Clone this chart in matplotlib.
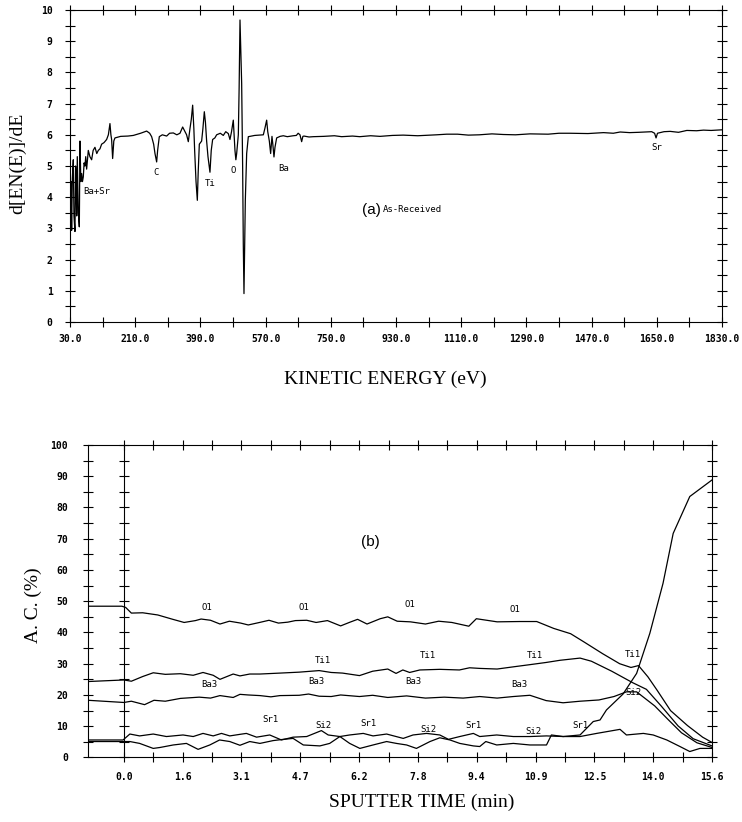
import numpy as np
import matplotlib
matplotlib.use('Agg')
import matplotlib.pyplot as plt
from matplotlib.ticker import FormatStrFormatter

# (a) Auger survey spectrum, as-received surface
energy_ev = [30, 31.5, 33, 34.6, 36.5, 39.2, 41, 43.8, 45.5, 47, 48.5, 50.2, 53, 55.8, 57.6, 60,
             62.2, 64.5, 66.8, 69, 71.4, 73.5, 76, 80.6,
             85, 89.8, 94, 99, 104, 108.2, 112.8, 117.4, 124, 131.2, 136, 140.4, 143, 145,
             147.8, 151, 154.2, 170, 190, 204.9, 225, 241.7, 250, 255.5, 261, 264.7, 269.3,
             272, 276.6, 285, 296.9, 305, 315.3, 325, 333.7, 341.1, 347.5, 352, 356.7, 361.3,
             365, 368.7, 372, 374.2, 378, 381.6, 384, 387.1, 393.5, 397, 400.9, 404, 407.3,
             411, 416.5, 420, 423.9, 430, 434.9, 445, 453.3, 460, 467.1, 471.7, 476, 480.9,
             483, 485.5, 488, 490.2, 494.8, 497, 499.4, 502, 504, 506.7, 508.5, 510.4, 512.5,
             514.1, 517.8, 522.4, 540, 563.8, 568, 573, 576, 580.4, 584, 587.7, 590, 593.2,
             596, 600.6, 610, 619, 630, 646.6, 655, 660, 665, 669.6, 673, 676, 690, 701.8,
             730, 760, 780, 810, 830, 860, 885.9, 920, 950, 990, 1042, 1070, 1100, 1130, 1160,
             1195, 1226, 1260, 1300, 1350, 1380, 1411, 1460, 1503, 1530, 1549, 1575, 1600,
             1636, 1644, 1648, 1652, 1670, 1687, 1710, 1733, 1760, 1779, 1800, 1830]
dnde = [4.3, 3.3, 4.5, 2.94, 4.6, 5.2, 3.4, 2.9, 5.0, 4.6, 3.4, 5.3, 3.5, 3.05, 5.8, 4.5,
        4.76, 4.5, 4.65, 5.1, 5.0, 5.3, 4.9, 5.5,
        5.3, 5.2, 5.5, 5.6, 5.4, 5.5, 5.55, 5.7, 5.75, 5.85, 6.0, 6.36, 6.0, 5.85,
        5.24, 5.8, 5.9, 5.95, 5.96, 5.98, 6.05, 6.12, 6.05, 5.94, 5.7, 5.4, 5.13,
        5.5, 5.94, 6.0, 5.96, 6.05, 6.06, 6.0, 6.05, 6.25, 6.1, 6.0, 5.78, 6.2,
        6.5, 6.95, 6.2, 5.5, 4.5, 3.9, 4.8, 5.7, 5.8, 6.2, 6.74, 6.4, 5.8,
        5.3, 4.8, 5.5, 5.85, 5.9, 6.0, 6.05, 5.98, 6.1, 6.04, 5.85, 6.1, 6.47,
        6.0, 5.5, 5.2, 5.4, 6.0, 7.5, 9.68, 8.6, 7.65, 4.97, 2.5, 0.91, 2.5,
        3.9, 5.4, 5.94, 5.98, 6.0, 6.2, 6.47, 6.1, 5.8, 5.4, 5.95, 5.7, 5.29,
        5.6, 5.9, 5.95, 5.97, 5.94, 5.97, 5.98, 6.05, 6.0, 5.78, 5.95, 5.96, 5.93, 5.94,
        5.95, 5.97, 5.94, 5.96, 5.94, 5.97, 5.95, 5.98, 5.99, 5.97, 6.0, 6.02, 6.02, 5.99, 6.0,
        6.03, 6.01, 6.0, 6.03, 6.02, 6.05, 6.05, 6.04, 6.07, 6.05, 6.09, 6.07, 6.08,
        6.1, 6.05, 5.9, 6.05, 6.1, 6.11, 6.08, 6.14, 6.13, 6.15, 6.14, 6.16]

peak_names = ['Ba+Sr', 'C', 'Ti', 'O', 'Ba', 'Sr']
peak_ev = [104, 269, 416, 481, 619, 1650]
peak_y = [4.17, 4.8, 4.44, 4.87, 4.92, 5.6]

# (b) depth profile, atomic concentration vs sputter time
o1_t = [-0.95, -0.05, 0.05, 0.2, 0.5, 0.9, 1.3, 1.6, 1.9, 2.05, 2.3, 2.55, 2.8, 3.1, 3.3,
        3.6, 3.85, 4.1, 4.35, 4.55, 4.85, 5.1, 5.4, 5.75, 6.0, 6.2, 6.45, 6.8, 7.0, 7.25,
        7.6, 8.0, 8.35, 8.7, 9.15, 9.35, 9.9, 10.5, 10.95, 11.4, 11.85, 12.2, 12.7, 13.15,
        13.45, 13.65, 13.9, 14.15, 14.5, 14.95, 15.35, 15.6]
o1_ac = [48.4, 48.4, 48.0, 46.2, 46.3, 45.6, 44.2, 43.2, 43.8, 44.3, 43.9, 42.7, 43.6, 43.0, 42.4,
         43.2, 43.9, 43.0, 43.3, 43.8, 43.9, 43.2, 43.8, 42.1, 43.3, 44.2, 42.7, 44.4, 45.0, 43.6,
         43.4, 42.7, 43.6, 43.2, 42.0, 44.4, 43.4, 43.5, 43.5, 41.3, 39.6, 37.0, 33.2, 30.0,
         28.8, 29.4, 25.8, 21.4, 15.0, 10.2, 6.5, 4.8]

ti1_t = [-0.95, 0.0, 0.2, 0.5, 0.78, 1.1, 1.5, 1.84, 2.1, 2.37, 2.55, 2.9, 3.08, 3.34, 3.61,
         4.14, 4.65, 5.18, 5.5, 5.8, 6.25, 6.6, 7.0, 7.22, 7.4, 7.58, 7.85, 8.38, 8.9, 9.17,
         9.44, 9.9, 10.33, 10.77, 11.2, 11.57, 12.1, 12.4, 12.94, 13.5, 13.86, 14.25, 14.7,
         15.1, 15.6]
ti1_ac = [24.3, 24.8, 24.4, 25.9, 27.1, 26.6, 26.8, 26.3, 27.2, 26.3, 25.0, 26.7, 26.1, 26.7, 26.7,
          27.0, 27.3, 27.8, 27.2, 27.0, 26.2, 27.6, 28.3, 26.9, 28.0, 27.2, 28.0, 28.2, 28.0, 28.7,
          28.5, 28.3, 29.0, 29.7, 30.4, 31.1, 31.8, 30.8, 27.6, 23.9, 21.8, 16.5, 10.1,
          6.0, 3.7]

ba3_t = [-0.95, 0.0, 0.2, 0.55, 0.8, 1.1, 1.5, 2.0, 2.3, 2.55, 2.9, 3.08, 3.3, 3.61, 3.9,
         4.14, 4.65, 4.9, 5.18, 5.5, 5.75, 6.25, 6.6, 7.0, 7.5, 8.0, 8.5, 9.0, 9.44, 9.9,
         10.33, 10.77, 11.2, 11.65, 12.1, 12.6, 13.0, 13.33, 13.6, 14.08, 14.43, 14.79, 15.2,
         15.6]
ba3_ac = [18.3, 17.6, 18.0, 16.9, 18.3, 18.0, 18.9, 19.3, 19.0, 19.8, 19.2, 20.2, 20.0, 19.8, 19.4,
          19.8, 19.9, 20.3, 19.6, 19.5, 20.0, 19.5, 19.9, 19.2, 19.7, 19.0, 19.3, 19.0, 19.5, 19.0,
          19.5, 19.9, 18.2, 17.5, 18.0, 18.4, 19.5, 21.0, 21.0, 16.5, 12.2, 7.9, 4.7,
          3.2]

sr1_t = [-0.95, -0.02, 0.16, 0.42, 0.78, 1.13, 1.57, 1.84, 2.1, 2.37, 2.59, 2.81, 3.08, 3.25,
         3.52, 3.87, 4.18, 4.49, 4.85, 5.24, 5.42, 5.73, 5.99, 6.35, 6.61, 6.97, 7.41, 7.67,
         8.03, 8.38, 8.61, 8.91, 9.27, 9.44, 9.89, 10.33, 10.77, 11.21, 11.65, 12.1, 12.54,
         13.16, 13.33, 13.78, 14.04, 14.4, 14.75, 15.01, 15.28, 15.6]
sr1_ac = [5.6, 5.6, 7.5, 6.9, 7.5, 6.7, 7.2, 6.7, 7.7, 6.9, 7.7, 6.9, 7.4, 7.7,
          6.5, 7.2, 5.6, 6.5, 6.7, 8.6, 7.2, 6.7, 7.2, 7.7, 6.9, 7.5, 6.1, 7.2,
          7.7, 7.2, 5.8, 6.7, 7.7, 6.7, 7.2, 6.7, 6.7, 6.9, 6.7, 6.7, 7.7,
          9.0, 7.2, 7.7, 7.2, 5.6, 3.5, 1.9, 2.9, 2.9]

si2_t = [-0.95, -0.02, 0.16, 0.42, 0.78, 0.96, 1.31, 1.66, 1.97, 2.28, 2.54, 2.81, 3.08, 3.34,
         3.61, 3.96, 4.23, 4.49, 4.76, 5.2, 5.46, 5.73, 5.99, 6.26, 6.61, 6.97, 7.23, 7.5,
         7.76, 8.12, 8.38, 8.65, 8.91, 9.27, 9.44, 9.6, 9.89, 10.33, 10.77, 11.21, 11.34,
         11.65, 12.1, 12.45, 12.63, 12.8, 13.24, 13.6, 13.95, 14.3, 14.57, 15.01, 15.6]
si2_ac = [5.1, 5.1, 5.1, 4.5, 2.9, 3.2, 4.0, 4.5, 2.6, 4.0, 5.6, 5.1, 3.9, 5.1,
          4.5, 5.4, 5.8, 6.1, 4.0, 3.7, 4.5, 6.7, 4.5, 2.9, 4.0, 5.1, 4.5, 4.0,
          2.9, 5.1, 6.3, 5.6, 4.5, 3.7, 3.5, 5.1, 4.0, 4.5, 4.0, 4.0, 7.2,
          6.7, 7.2, 11.5, 12.0, 15.2, 20.3, 26.9, 39.7, 55.7, 71.7, 83.5, 88.8]

label_names = ['O1', 'O1', 'O1', 'O1', 'Ti1', 'Ti1', 'Ti1', 'Ti1', 'Ba3', 'Ba3', 'Ba3', 'Ba3',
               'Sr1', 'Si2', 'Sr1', 'Si2', 'Sr1', 'Si2', 'Sr1', 'Si2']
label_t = [2.19, 4.77, 7.59, 10.37, 5.29, 8.07, 10.9, 13.51, 2.28, 5.1, 7.67, 10.5,
           3.89, 5.29, 6.48, 8.07, 9.27, 10.86, 12.1, 13.51]
label_ac = [48.1, 48.1, 48.8, 47.4, 30.9, 32.5, 32.5, 32.8, 23.5, 24.3, 24.3, 23.2,
            12.0, 10.1, 10.9, 8.8, 10.1, 8.3, 10.1, 20.7]

serif = 'Liberation Serif'
mono = 'DejaVu Sans Mono'

fig = plt.figure(figsize=(7.42, 8.22), dpi=100)

# ---- top panel ----
ax1 = fig.add_axes([0.0943, 0.6083, 0.8787, 0.3795])
ax1.plot(energy_ev, dnde, color='black', lw=0.9)
ax1.set_xlim(30, 1830)
ax1.set_ylim(0, 10)
ax1.set_xticks(np.arange(30, 1831, 180))
ax1.set_xticks(np.arange(120, 1831, 180), minor=True)
ax1.set_yticks(np.arange(0, 11, 1))
ax1.set_yticks(np.arange(0.5, 10, 1), minor=True)
ax1.xaxis.set_major_formatter(FormatStrFormatter('%.1f'))
ax1.tick_params(which='both', direction='inout', top=True, right=True, length=7, width=0.8)
ax1.tick_params(axis='x', pad=5)
ax1.tick_params(axis='y', pad=9)
for lab in ax1.get_xticklabels() + ax1.get_yticklabels():
    lab.set_fontfamily(mono)
    lab.set_fontweight('bold')
    lab.set_fontsize(7)

for name, x, y in zip(peak_names, peak_ev, peak_y):
    ax1.text(x, y, name, family=mono, fontsize=6.5, ha='center', va='center')
ax1.text(863, 3.59, '(a)', family='Liberation Sans', fontsize=11, ha='center', va='center')
ax1.text(895, 3.59, 'As-Received', family=mono, fontsize=6.5, ha='left', va='center')

ax1.set_xlabel('KINETIC ENERGY (eV)', family=serif, fontsize=14)
ax1.xaxis.set_label_coords(0.483, -0.155)
ax1.set_ylabel('d[EN(E)]/dE', family=serif, fontsize=14)
ax1.yaxis.set_label_coords(-0.067, 0.51)

# ---- bottom panel ----
ax2 = fig.add_axes([0.1186, 0.0785, 0.841, 0.3802])
for t, ac in [(o1_t, o1_ac), (ti1_t, ti1_ac), (ba3_t, ba3_ac), (sr1_t, sr1_ac), (si2_t, si2_ac)]:
    ax2.plot(t, ac, color='black', lw=0.9)
tmin, tmax = -0.95, 15.6
ax2.set_xlim(tmin, tmax)
ax2.set_ylim(0, 100)
ax2.set_xticks(np.arange(0, 15.61, 1.56))
ax2.set_xticks(np.arange(0.78, 15.6, 1.56), minor=True)
ax2.set_yticks(np.arange(0, 101, 10))
ax2.set_yticks(np.arange(5, 100, 10), minor=True)
ax2.xaxis.set_major_formatter(FormatStrFormatter('%.1f'))
ax2.tick_params(which='both', direction='inout', top=True, right=True, length=7, width=0.8)
ax2.tick_params(axis='x', pad=7)
ax2.tick_params(axis='y', pad=11)
for lab in ax2.get_xticklabels() + ax2.get_yticklabels():
    lab.set_fontfamily(mono)
    lab.set_fontweight('bold')
    lab.set_fontsize(7)

# inner axis line at t = 0
inner = ax2.secondary_yaxis((0 - tmin) / (tmax - tmin))
inner.set_yticks(np.arange(0, 101, 10))
inner.set_yticks(np.arange(5, 100, 10), minor=True)
inner.tick_params(which='both', direction='inout', length=7, width=0.8, labelleft=False)
inner.spines['left'].set_linewidth(0.8)

for name, x, y in zip(label_names, label_t, label_ac):
    ax2.text(x, y, name, family=mono, fontsize=6.5, ha='center', va='center')
ax2.text(6.53, 69.1, '(b)', family='Liberation Sans', fontsize=11, ha='center', va='center')

ax2.set_xlabel('SPUTTER TIME (min)', family=serif, fontsize=14)
ax2.xaxis.set_label_coords(0.535, -0.115)
ax2.set_ylabel('A. C. (%)', family=serif, fontsize=14)
ax2.yaxis.set_label_coords(-0.074, 0.488)

for ax in (ax1, ax2):
    for sp in ax.spines.values():
        sp.set_linewidth(0.8)

fig.savefig('out.png', dpi=100)
